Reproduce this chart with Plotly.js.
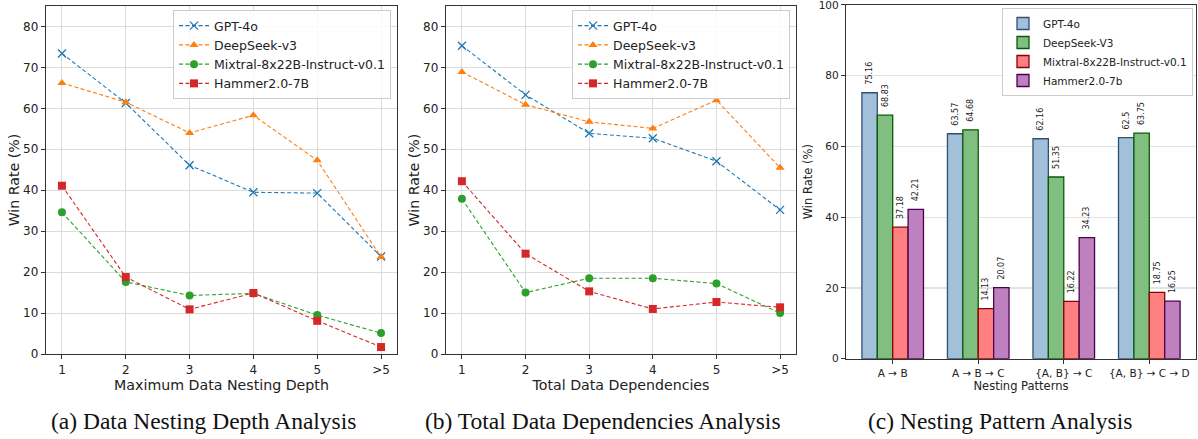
<!DOCTYPE html>
<html>
<head>
<meta charset="utf-8">
<script src="https://cdn.plot.ly/plotly-3.0.1.min.js"></script>
<style>html,body{margin:0;padding:0;background:#fff;}#chart{width:1198px;height:439px;}</style>
</head>
<body>
<div id="chart"></div>
<script>
// ---- data ----
const depthCats = ['1', '2', '3', '4', '5', '>5'];
const depthGPT4o = [73.4, 61.3, 46.1, 39.5, 39.3, 23.8];
const depthDeepSeek = [66.2, 61.5, 54.0, 58.3, 47.3, 23.7];
const depthMixtral = [34.6, 17.6, 14.3, 14.8, 9.5, 5.1];
const depthHammer = [41.1, 18.8, 10.9, 14.9, 8.1, 1.7];

const depCats = ['1', '2', '3', '4', '5', '>5'];
const depGPT4o = [75.3, 63.3, 53.9, 52.7, 47.1, 35.2];
const depDeepSeek = [68.9, 60.9, 56.7, 55.1, 62.0, 45.5];
const depMixtral = [37.9, 15.0, 18.5, 18.5, 17.2, 10.0];
const depHammer = [42.2, 24.5, 15.3, 11.0, 12.7, 11.4];

const patternCats = ['A → B', 'A → B → C', '{A, B} → C', '{A, B} → C → D'];
const patGPT4o = [75.16, 63.57, 62.16, 62.5];
const patDeepSeek = [68.83, 64.68, 51.35, 63.75];
const patMixtral = [37.18, 14.13, 16.22, 18.75];
const patHammer = [42.21, 20.07, 34.23, 16.25];

const lineNames = ['GPT-4o', 'DeepSeek-v3', 'Mixtral-8x22B-Instruct-v0.1', 'Hammer2.0-7B'];
const barNames = ['GPT-4o', 'DeepSeek-V3', 'Mixtral-8x22B-Instruct-v0.1', 'Hammer2.0-7b'];
const captions = ['(a) Data Nesting Depth Analysis', '(b) Total Data Dependencies Analysis', '(c) Nesting Pattern Analysis'];

// ---- styles ----
const lineColors = ['#1f77b4', '#ff7f0e', '#2ca02c', '#d62728'];
const lineSymbols = ['x-thin', 'triangle-up', 'circle', 'square'];
const barFill = ['rgb(162,192,217)', 'rgb(128,191,128)', 'rgb(255,128,128)', 'rgb(191,128,191)'];
const barEdge = ['#30506f', '#0a5a0a', '#8b0000', '#4a004a'];
const FONT = 'DejaVu Sans, sans-serif';

const traces = [];
function addLines(cats, seriesList, xa, ya, legend) {
  seriesList.forEach((vals, i) => {
    const isX = lineSymbols[i] === 'x-thin';
    traces.push({
      type: 'scatter', mode: 'lines+markers', x: cats, y: vals,
      name: lineNames[i], xaxis: xa, yaxis: ya, legend: legend,
      line: {color: lineColors[i], width: 1.1, dash: '4px,2.5px'},
      marker: {color: lineColors[i], symbol: lineSymbols[i], size: 8,
               line: {color: lineColors[i], width: isX ? 1.3 : 0}},
      cliponaxis: false
    });
  });
}
addLines(depthCats, [depthGPT4o, depthDeepSeek, depthMixtral, depthHammer], 'x', 'y', 'legend');
addLines(depCats, [depGPT4o, depDeepSeek, depMixtral, depHammer], 'x2', 'y2', 'legend2');

[patGPT4o, patDeepSeek, patMixtral, patHammer].forEach((vals, i) => {
  traces.push({
    type: 'bar', x: patternCats, y: vals, name: barNames[i],
    xaxis: 'x3', yaxis: 'y3', legend: 'legend3',
    marker: {color: barFill[i], line: {color: barEdge[i], width: 1.3}},
    text: vals.map(v => '\u00a0\u00a0' + String(v)), textposition: 'outside', textangle: -90,
    constraintext: 'none', cliponaxis: false,
    textfont: {family: FONT, size: 8, color: '#222'}
  });
});

const spine = {showline: true, linecolor: '#333', linewidth: 1.2, mirror: true};
const tickf = {family: FONT, size: 12, color: '#222'};
const titlef = {family: FONT, size: 14.2, color: '#222'};

function xCat(domain, title) {
  return Object.assign({}, spine, {
    domain: domain, type: 'category', range: [-0.25, 5.25],
    showgrid: true, gridcolor: '#dcdcdc', gridwidth: 1,
    ticks: 'outside', ticklen: 4, tickcolor: '#333', tickfont: tickf,
    title: {text: title, font: titlef, standoff: 3}, zeroline: false
  });
}
function yLin(domain, anchor) {
  return Object.assign({}, spine, {
    domain: domain, anchor: anchor, range: [0, 85], dtick: 10,
    showgrid: true, gridcolor: '#dcdcdc', gridwidth: 1,
    ticks: 'outside', ticklen: 4, tickcolor: '#333', tickfont: tickf,
    title: {text: 'Win Rate (%)', font: titlef, standoff: 0}, zeroline: false
  });
}

const yDomAB = [1 - 354 / 439, 1 - 6 / 439];
const yDomC = [1 - 358.7 / 439, 1 - 4.7 / 439];

const legendBase = {
  bgcolor: 'rgba(255,255,255,0.85)', bordercolor: '#cccccc', borderwidth: 1,
  xanchor: 'left', yanchor: 'top', tracegroupgap: 0,
  font: {family: FONT, size: 12.5, color: '#222'}
};

const layout = {
  width: 1198, height: 439,
  margin: {l: 0, r: 0, t: 0, b: 0},
  paper_bgcolor: '#fff', plot_bgcolor: '#fff',
  showlegend: true,
  barmode: 'group', bargap: 0.28, bargroupgap: 0,
  xaxis: Object.assign(xCat([46 / 1198, 397 / 1198], 'Maximum Data Nesting Depth'), {anchor: 'y'}),
  yaxis: yLin(yDomAB, 'x'),
  xaxis2: Object.assign(xCat([446 / 1198, 796 / 1198], 'Total Data Dependencies'), {anchor: 'y2'}),
  yaxis2: yLin(yDomAB, 'x2'),
  xaxis3: Object.assign({}, spine, {
    domain: [846 / 1198, 1196 / 1198], anchor: 'y3', type: 'category',
    range: [-0.546, 3.546], showgrid: false, ticks: 'outside', ticklen: 4, tickcolor: '#333',
    tickfont: {family: FONT, size: 10.5, color: '#222'},
    title: {text: 'Nesting Patterns', font: {family: FONT, size: 11.5, color: '#222'}, standoff: 4}
  }),
  yaxis3: Object.assign({}, spine, {
    domain: yDomC, anchor: 'x3', range: [0, 100.05], tickvals: [0, 20, 40, 60, 80, 100],
    ticklabeloverflow: 'allow',
    showgrid: true, gridcolor: '#e3e3e3', gridwidth: 1.2, zeroline: false,
    ticks: 'outside', ticklen: 4, tickcolor: '#333',
    tickfont: {family: FONT, size: 10.5, color: '#222'},
    title: {text: 'Win Rate (%)', font: {family: FONT, size: 11.5, color: '#222'}, standoff: 3}
  }),
  legend: Object.assign({}, legendBase, {x: 173 / 1198, y: 1 - 10 / 439}),
  legend2: Object.assign({}, legendBase, {x: 572 / 1198, y: 1 - 10 / 439}),
  legend3: Object.assign({}, legendBase, {x: 1002 / 1198, y: 1 - 8 / 439,
    font: {family: FONT, size: 10.5, color: '#222'}}),
  annotations: [
    {text: captions[0], x: 203 / 1198},
    {text: captions[1], x: 603 / 1198},
    {text: captions[2], x: 1000 / 1198}
  ].map(a => Object.assign(a, {
    xref: 'paper', yref: 'paper', y: 1 - 421 / 439, xanchor: 'center', yanchor: 'middle',
    showarrow: false, font: {family: 'Liberation Serif, Times New Roman, serif', size: 23.5, color: '#111'}
  }))
};

Plotly.newPlot('chart', traces, layout, {staticPlot: true, displayModeBar: false});
</script>
</body>
</html>
